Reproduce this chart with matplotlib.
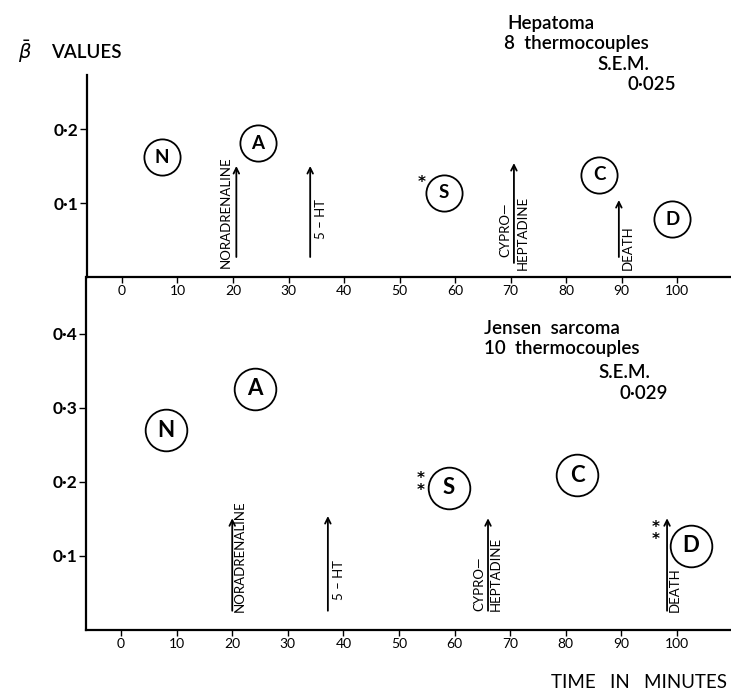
import matplotlib
matplotlib.use("Agg")
import matplotlib.pyplot as plt

plt.rcParams['font.family'] = ['Lato', 'DejaVu Sans']

# ---- data ----
x_ticks = [0, 10, 20, 30, 40, 50, 60, 70, 80, 90, 100]

# top panel: Hepatoma
top_letters = ['N', 'A', 'S', 'C', 'D']
top_x = [7.2, 24.5, 58.0, 86.0, 99.1]
top_y = [0.162, 0.181, 0.114, 0.138, 0.078]
top_yticks = [0.1, 0.2]
top_yticklabels = ['0·1', '0·2']
top_star_text = ['*']
top_star_x = [53.9]
top_star_y = [0.128]

top_arrow_x = [20.6, 33.9, 70.6, 89.5]
top_arrow_y0 = [0.027, 0.027, 0.019, 0.027]
top_arrow_y1 = [0.150, 0.150, 0.154, 0.104]

# bottom panel: Jensen sarcoma
bot_letters = ['N', 'A', 'S', 'C', 'D']
bot_x = [8.1, 24.1, 58.9, 82.0, 102.5]
bot_y = [0.270, 0.326, 0.192, 0.209, 0.114]
bot_yticks = [0.1, 0.2, 0.3, 0.4]
bot_yticklabels = ['0·1', '0·2', '0·3', '0·4']
bot_star_text = ['*\n*', '*\n*']
bot_star_x = [53.8, 96.1]
bot_star_y = [0.197, 0.130]

bot_arrow_x = [20.0, 37.2, 66.0, 98.2]
bot_arrow_y0 = [0.026, 0.026, 0.026, 0.026]
bot_arrow_y1 = [0.151, 0.154, 0.151, 0.151]

fig = plt.figure(figsize=(7.31, 6.96), dpi=100)
ax1 = fig.add_axes([87/731, 1-277/696, 1-87/731, (277-75)/696])
ax2 = fig.add_axes([86/731, 1-630/696, 1-86/731, (630-277)/696])


def style_axes(ax, ymax, yticks, yticklabels):
    ax.set_xlim(-6.3, 109.7)
    ax.set_ylim(0, ymax)
    for s in ['top', 'right']:
        ax.spines[s].set_visible(False)
    ax.spines['left'].set_linewidth(1.6)
    ax.spines['bottom'].set_linewidth(1.6)
    ax.set_xticks(x_ticks)
    ax.set_xticklabels([str(v) for v in x_ticks], fontsize=10)
    ax.set_yticks(yticks)
    ax.set_yticklabels(yticklabels, fontsize=12.5, fontweight='bold')
    ax.tick_params(axis='x', direction='out', length=4, width=1, pad=2)
    ax.tick_params(axis='y', direction='out', length=5, width=1, pad=1)
    ax.patch.set_visible(False)


def draw_markers(ax, letters, xs, ys, size, fs):
    ax.scatter(xs, ys, s=size, facecolor='white', edgecolor='black',
               linewidth=1.3, zorder=3)
    for L, x, y in zip(letters, xs, ys):
        ax.text(x, y, L, ha='center', va='center', fontsize=fs,
                fontweight='bold', zorder=4)


def draw_stars(ax, texts, xs, ys):
    # asterisks marking significance
    for t, x, y in zip(texts, xs, ys):
        ax.text(x, y, t, ha='center', va='center', fontsize=11,
                family='DejaVu Sans', fontweight='bold',
                linespacing=0.75, zorder=5)


def draw_arrows(ax, xs, y0s, y1s):
    for x, y0, y1 in zip(xs, y0s, y1s):
        ax.annotate('', xy=(x, y1), xytext=(x, y0),
                    arrowprops=dict(arrowstyle='->', lw=1.3,
                                    shrinkA=0, shrinkB=0,
                                    mutation_scale=10))


style_axes(ax1, 0.273, top_yticks, top_yticklabels)
style_axes(ax2, 0.477, bot_yticks, bot_yticklabels)

draw_arrows(ax1, top_arrow_x, top_arrow_y0, top_arrow_y1)
draw_arrows(ax2, bot_arrow_x, bot_arrow_y0, bot_arrow_y1)

draw_markers(ax1, top_letters, top_x, top_y, 680, 13.5)
draw_markers(ax2, bot_letters, bot_x, bot_y, 900, 16)
draw_stars(ax1, top_star_text, top_star_x, top_star_y)
draw_stars(ax2, bot_star_text, bot_star_x, bot_star_y)

lab = dict(fontsize=9.5, rotation=90)
# top panel arrow labels
ax1.text(top_arrow_x[0] - 0.8, 0.012, 'NORADRENALINE', ha='right', va='bottom', **lab)
ax1.text(top_arrow_x[1] + 0.8, 0.052, '5 – HT', ha='left', va='bottom', **lab)
ax1.text(top_arrow_x[2] - 0.5, 0.027, 'CYPRO—', ha='right', va='bottom', **lab)
ax1.text(top_arrow_x[2] + 0.5, 0.009, 'HEPTADINE', ha='left', va='bottom', **lab)
ax1.text(top_arrow_x[3] + 0.6, 0.009, 'DEATH', ha='left', va='bottom', **lab)
# bottom panel arrow labels
ax2.text(bot_arrow_x[0] + 0.3, 0.024, 'NORADRENALINE', ha='left', va='bottom', **lab)
ax2.text(bot_arrow_x[1] + 0.9, 0.040, '5 – HT', ha='left', va='bottom', **lab)
ax2.text(bot_arrow_x[2] - 0.5, 0.026, 'CYPRO—', ha='right', va='bottom', **lab)
ax2.text(bot_arrow_x[2] + 0.4, 0.026, 'HEPTADINE', ha='left', va='bottom', **lab)
ax2.text(bot_arrow_x[3] + 0.3, 0.024, 'DEATH', ha='left', va='bottom', **lab)

# headings
fig.text(18/731, 1-52/696, r'$\bar{\beta}$', fontsize=14, va='center')
fig.text(51/731, 1-52/696, 'VALUES', fontsize=13.5, va='center',
         fontweight='semibold')

hd = dict(fontsize=13.5, va='center', fontweight='semibold')
fig.text(507/731, 1-23/696, 'Hepatoma', **hd)
fig.text(504/731, 1-44/696, '8  thermocouples', **hd)
fig.text(597/731, 1-65/696, 'S.E.M.', **hd)
fig.text(627/731, 1-84/696, '0·025', **hd)

fig.text(484/731, 1-328/696, 'Jensen  sarcoma', **hd)
fig.text(484/731, 1-349/696, '10  thermocouples', **hd)
fig.text(598/731, 1-373/696, 'S.E.M.', **hd)
fig.text(619/731, 1-393/696, '0·029', **hd)

fig.text(727/731, 1-683/696, 'TIME   IN   MINUTES', fontsize=13.5,
         ha='right', va='center')

fig.savefig('out.png', dpi=100)
